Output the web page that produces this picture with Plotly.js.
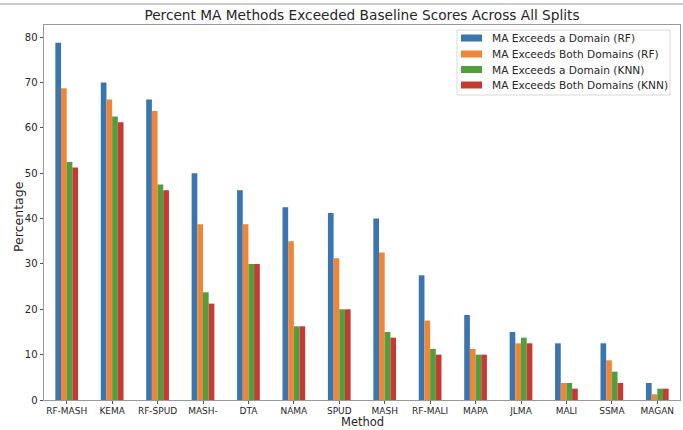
<!DOCTYPE html>
<html>
<head>
<meta charset="utf-8">
<script src="https://cdn.plot.ly/plotly-3.0.1.min.js"></script>
<style>html,body{margin:0;padding:0;background:#fff;}#chart{width:683px;height:430px;}</style>
</head>
<body>
<div id="chart"></div>
<script>
const methods = ["RF-MASH","KEMA","RF-SPUD","MASH-","DTA","NAMA","SPUD","MASH","RF-MALI","MAPA","JLMA","MALI","SSMA","MAGAN"];
const exceedDomainRF = [78.75,70,66.25,50,46.25,42.5,41.25,40,27.5,18.75,15,12.5,12.5,3.75];
const exceedBothRF = [68.75,66.25,63.75,38.75,38.75,35,31.25,32.5,17.5,11.25,12.5,3.75,8.75,1.25];
const exceedDomainKNN = [52.5,62.5,47.5,23.75,30,16.25,20,15,11.25,10,13.75,3.75,6.25,2.5];
const exceedBothKNN = [51.25,61.25,46.25,21.25,30,16.25,20,13.75,10,10,12.5,2.5,3.75,2.5];
const seriesNames = ["MA Exceeds a Domain (RF)","MA Exceeds Both Domains (RF)","MA Exceeds a Domain (KNN)","MA Exceeds Both Domains (KNN)"];
const colors = ["#3b75af","#ef8636","#519e3e","#c53a32"];
const yTicks = [0,10,20,30,40,50,60,70,80];

// plot area geometry (pixels) used for placing custom legend and titles
const PL = 44, PR = 680, PT = 25, PB = 400;
const px = x => (x - PL) / (PR - PL);
const py = y => (PB - y) / (PB - PT);

const allSeries = [exceedDomainRF, exceedBothRF, exceedDomainKNN, exceedBothKNN];
const traces = allSeries.map((vals, i) => ({
  type: "bar",
  x: methods.map((m, j) => j),
  y: vals,
  name: seriesNames[i],
  marker: {color: colors[i], line: {width: 0}},
  hoverinfo: "y"
}));

const txt = "#262626";
const shapes = [
  {type: "line", xref: "paper", yref: "paper", x0: px(0), x1: px(683), y0: py(4), y1: py(4),
   line: {color: "#999", width: 1}},
  {type: "rect", xref: "paper", yref: "paper", x0: px(457), x1: px(670), y0: py(30), y1: py(95),
   line: {color: "#d9d9d9", width: 1}, fillcolor: "rgba(255,255,255,0.85)", layer: "above"}
];
const annotations = [
  {text: "Method", xref: "paper", yref: "paper", x: 0.5, y: py(430), xanchor: "center", yanchor: "bottom",
   showarrow: false, font: {size: 11.5, color: txt}, borderpad: 0},
  {text: "Percentage", xref: "paper", yref: "paper", x: px(18), y: py(217), xanchor: "center", yanchor: "middle",
   textangle: -90, showarrow: false, font: {size: 12.5, color: txt}}
];
const legendY = [38, 54, 69.5, 85];
seriesNames.forEach((name, i) => {
  shapes.push({type: "rect", xref: "paper", yref: "paper", x0: px(461), x1: px(482),
               y0: py(legendY[i] - 3.5), y1: py(legendY[i] + 3.5),
               line: {width: 0}, fillcolor: colors[i], layer: "above"});
  annotations.push({text: name, xref: "paper", yref: "paper", x: px(490), y: py(legendY[i]),
                    xanchor: "left", yanchor: "middle", showarrow: false,
                    font: {size: 10.6, color: txt}});
});

const layout = {
  width: 683, height: 430,
  margin: {l: PL, r: 683 - PR, t: PT, b: 430 - PB, pad: 0},
  paper_bgcolor: "#fff", plot_bgcolor: "#fff",
  font: {family: "DejaVu Sans, sans-serif", size: 10, color: txt},
  barmode: "group", bargap: 0.5, bargroupgap: 0,
  showlegend: false,
  title: {text: "Percent MA Methods Exceeded Baseline Scores Across All Splits",
          font: {size: 13.7, color: txt}, x: 0.5, xref: "paper", xanchor: "center",
          y: 1 - 15/430, yref: "container", yanchor: "middle"},
  xaxis: {
    range: [-0.5, 13.5], tickmode: "array", tickvals: methods.map((m, j) => j), ticktext: methods,
    ticks: "outside", ticklen: 2.5, tickcolor: "#555", tickfont: {size: 9, color: txt},
    showline: true, linecolor: "#999", linewidth: 1, mirror: true, showgrid: false, zeroline: false
  },
  yaxis: {
    range: [0, 82.69], tickmode: "array", tickvals: yTicks,
    ticks: "outside", ticklen: 3.5, tickcolor: "#555", tickfont: {size: 10, color: txt},
    showline: true, linecolor: "#999", linewidth: 1, mirror: true, showgrid: false, zeroline: false
  },
  shapes: shapes,
  annotations: annotations
};
Plotly.newPlot("chart", traces, layout, {displayModeBar: false, staticPlot: true});
</script>
</body>
</html>
